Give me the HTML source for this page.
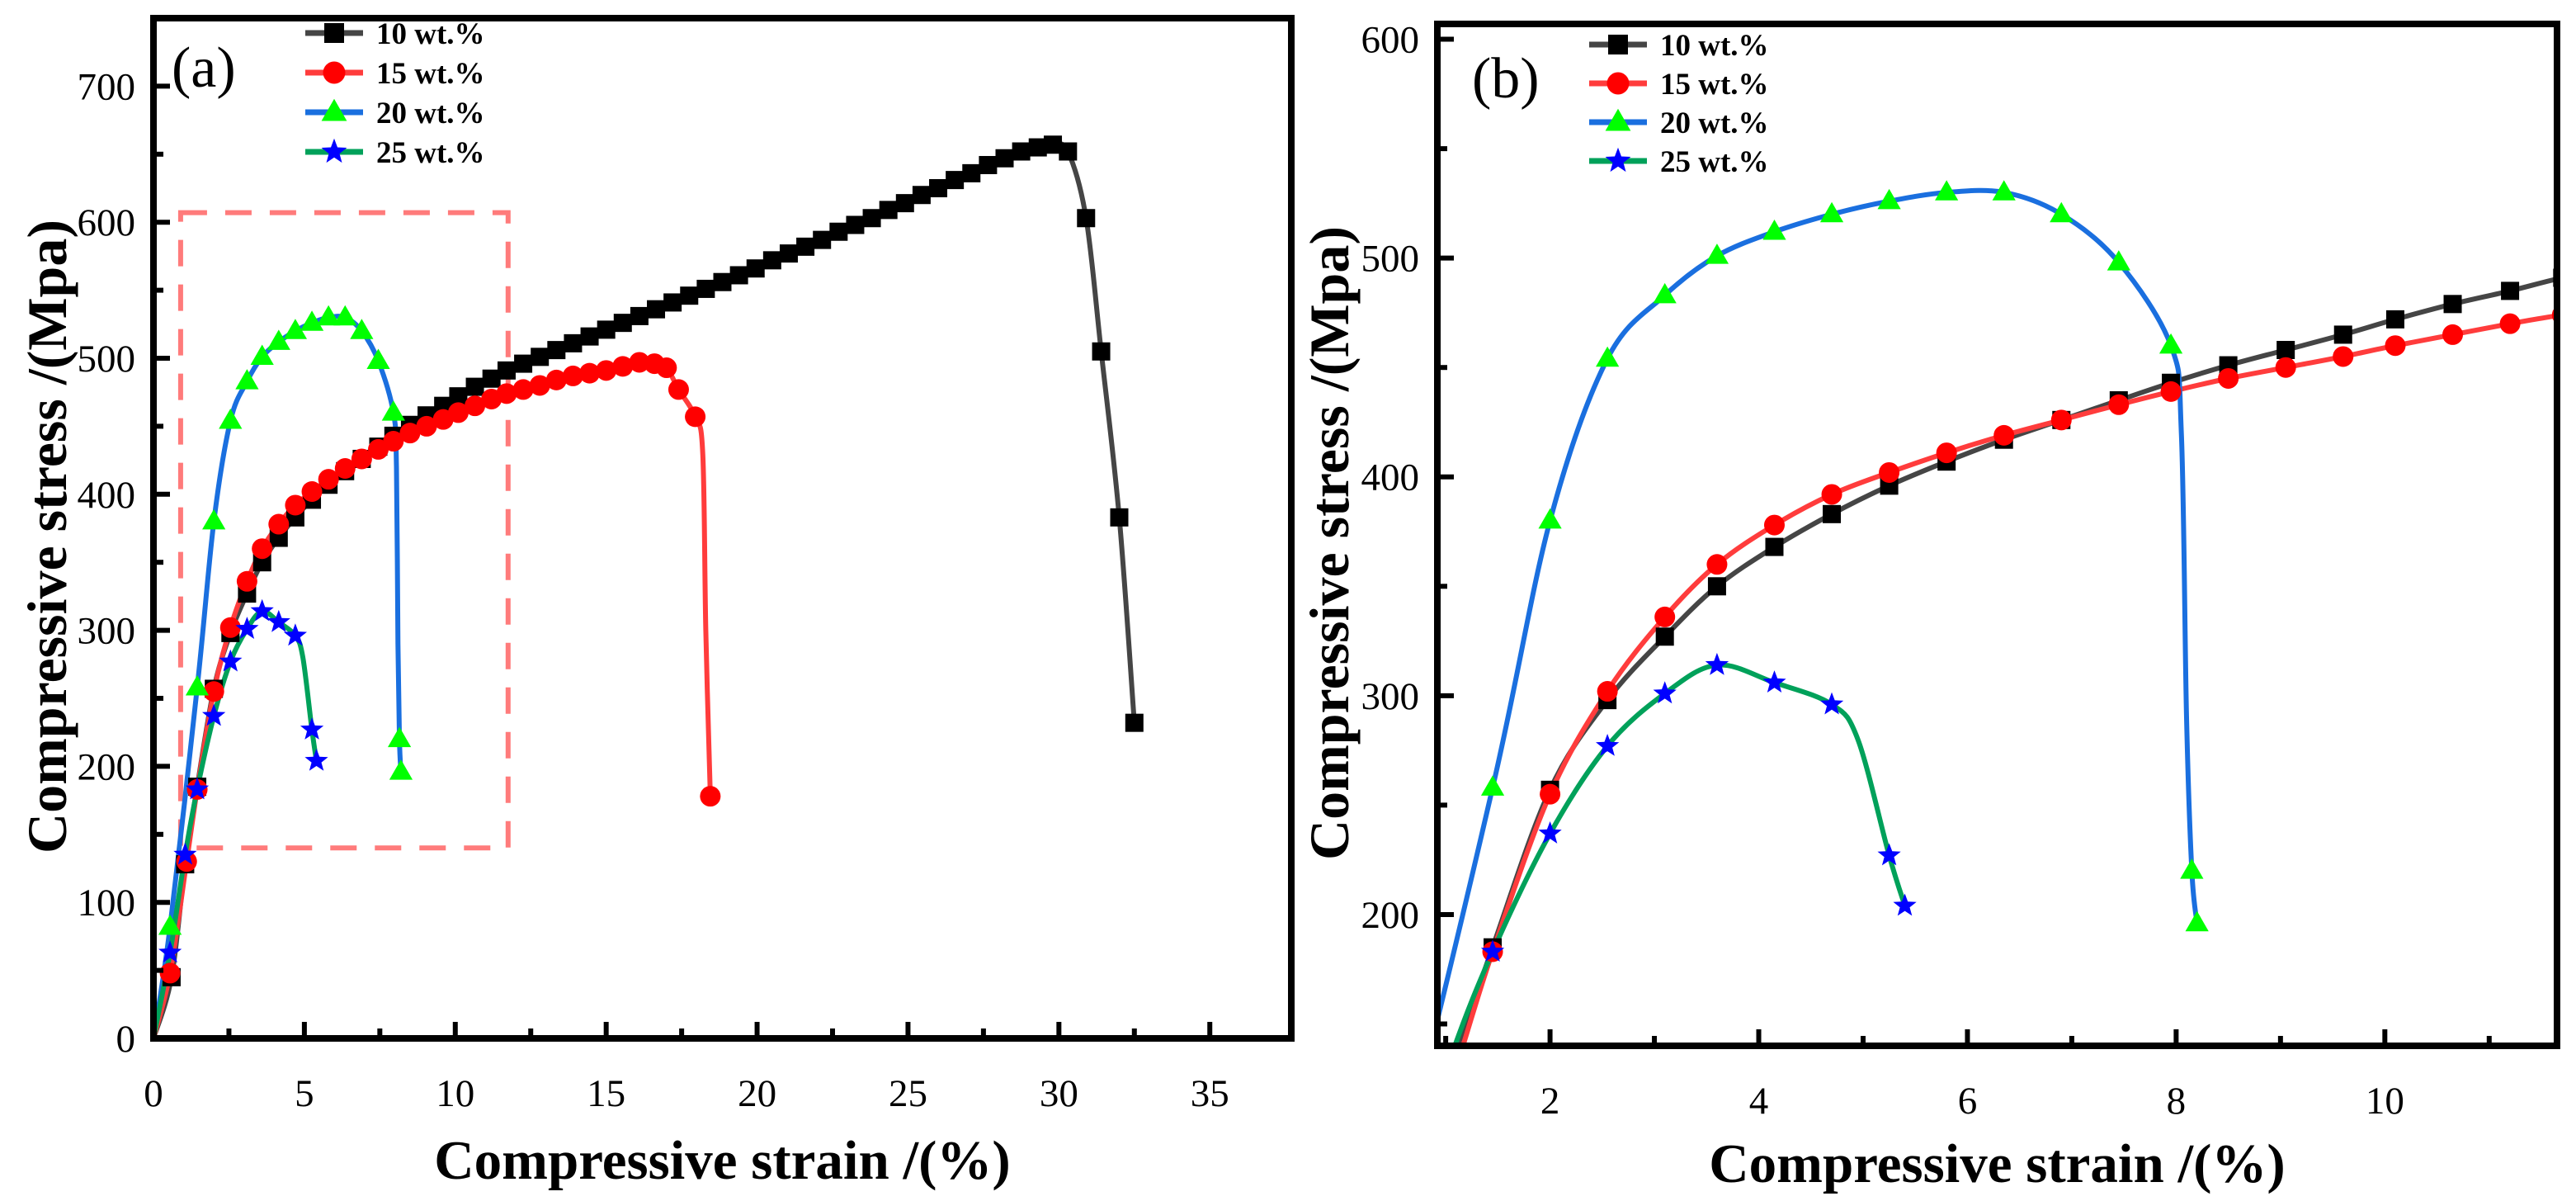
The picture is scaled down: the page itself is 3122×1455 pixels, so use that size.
<!DOCTYPE html>
<html><head><meta charset="utf-8"><style>
html,body{margin:0;padding:0;background:#fff;overflow:hidden;width:3122px;height:1455px;}
svg{display:block;}
text{font-family:"Liberation Serif",serif;}
</style></head>
<body>
<svg id="chart" xmlns="http://www.w3.org/2000/svg" width="3122" height="1455" viewBox="0 0 3122 1455"></svg>
<script>
// ---- data ----
const s10x=[0,0.6,1.05,1.45,2,2.55,3.1,3.6,4.15,4.7,5.25,5.8,6.35,6.9,7.45,7.95,8.5,9.05,9.6,10.1,10.65,11.2,11.7,12.25,12.8,13.35,13.9,14.45,15.0,15.55,16.1,16.65,17.2,17.75,18.3,18.85,19.4,19.95,20.5,21.05,21.6,22.15,22.7,23.25,23.8,24.35,24.9,25.45,26.0,26.55,27.1,27.65,28.2,28.75,29.3,29.8,30.3,30.9,31.4,32.0,32.5];
const s10y=[0,45,128,185,257,298,327,350,368,383,396,407,417,426,435,443,451,458,465,472,479,485,491,496,501,506,511,516,521,526,531,536,541,546,551,556,561,566,572,577,582,587,593,598,603,609,614,620,625,631,636,642,647,652,655,657,652,603,505,383,232];
const s10m=s10x.map((v,i)=>i>0?1:0);
const s15x=[0,0.55,1.1,1.45,2,2.55,3.1,3.6,4.15,4.7,5.25,5.8,6.35,6.9,7.45,7.95,8.5,9.05,9.6,10.1,10.65,11.2,11.7,12.25,12.8,13.35,13.9,14.45,15.0,15.55,16.1,16.6,17.0,17.4,17.95,18.2,18.3,18.45];
const s15y=[0,48,130,183,255,302,336,360,378,392,402,411,419,426,433,439,445,450,455,460,465,470,474,477,480,484,487,489,491,494,497,496,493,477,457,430,300,178];
const s15m=[0,1,1,1,1,1,1,1,1,1,1,1,1,1,1,1,1,1,1,1,1,1,1,1,1,1,1,1,1,1,1,1,1,1,1,0,0,1];
const s20x=[0,0.55,1.45,2,2.55,3.1,3.6,4.15,4.7,5.25,5.8,6.35,6.9,7.45,7.95,8.05,8.1,8.15,8.2];
const s20y=[0,82,258,380,454,483,501,512,520,526,530,530,520,498,460,420,290,220,196];
const s20m=[0,1,1,1,1,1,1,1,1,1,1,1,1,1,1,0,0,1,1];
const s25x=[0,0.55,1.05,1.45,2,2.55,3.1,3.6,4.15,4.7,4.95,5.25,5.4];
const s25y=[0,63,135,183,237,277,301,314,306,296,280,227,204];
const s25m=[0,1,1,1,1,1,1,1,1,1,0,1,1];
const legendLabels=["10 wt.%","15 wt.%","20 wt.%","25 wt.%"];
const aXTicks=[0,5,10,15,20,25,30,35];
const aYTicks=[0,100,200,300,400,500,600,700];
const bXTicks=[2,4,6,8,10];
const bYTicks=[200,300,400,500,600];

const NS="http://www.w3.org/2000/svg";
const svg=document.getElementById('chart');
function mk(tag,attrs,parent){const e=document.createElementNS(NS,tag);for(const k in attrs)e.setAttribute(k,attrs[k]);(parent||svg).appendChild(e);return e;}

const series=[
 {x:s10x,y:s10y,m:s10m,line:"#454545",mk:"square",mc:"#000000",name:"series-10wt"},
 {x:s15x,y:s15y,m:s15m,line:"#ff3c3c",mk:"circle",mc:"#ff0000",name:"series-15wt"},
 {x:s20x,y:s20y,m:s20m,line:"#1a6fdf",mk:"triangle",mc:"#00ff00",name:"series-20wt"},
 {x:s25x,y:s25y,m:s25m,line:"#00a15a",mk:"star",mc:"#0000ff",name:"series-25wt"}
];

function marker(type,cx,cy,col,parent,sz){
  let e;
  if(type==="square"){e=mk('rect',{x:cx-sz,y:cy-sz,width:2*sz,height:2*sz,fill:col},parent);}
  else if(type==="circle"){e=mk('circle',{cx:cx,cy:cy,r:sz+1.5,fill:col},parent);}
  else if(type==="triangle"){const r=sz*1.35;e=mk('polygon',{points:`${cx},${cy-r} ${cx+r*0.95},${cy+r*0.65} ${cx-r*0.95},${cy+r*0.65}`,fill:col},parent);}
  else{const R=sz*1.35,r=R*0.42;let p=[];for(let i=0;i<10;i++){const a=-Math.PI/2+i*Math.PI/5;const rr=i%2?r:R;p.push((cx+rr*Math.cos(a)).toFixed(1)+","+(cy+rr*Math.sin(a)).toFixed(1));}e=mk('polygon',{points:p.join(' '),fill:col},parent);}
  return e;
}
function smoothPath(pts){
  let d=`M${pts[0][0]},${pts[0][1]}`;
  for(let i=0;i<pts.length-1;i++){
    const p0=pts[i-1]||pts[i],p1=pts[i],p2=pts[i+1],p3=pts[i+2]||p2;
    const t=1/6;
    const c1=[p1[0]+(p2[0]-p0[0])*t,p1[1]+(p2[1]-p0[1])*t];
    const c2=[p2[0]-(p3[0]-p1[0])*t,p2[1]-(p3[1]-p1[1])*t];
    d+=` C${c1[0].toFixed(1)},${c1[1].toFixed(1)} ${c2[0].toFixed(1)},${c2[1].toFixed(1)} ${p2[0].toFixed(1)},${p2[1].toFixed(1)}`;
  }
  return d;
}

function panel(cfg){
  const {L,R,T,B,x0,x1,y0,y1,id}=cfg;
  const sx=v=>L+(v-x0)/(x1-x0)*(R-L);
  const sy=v=>B-(v-y0)/(y1-y0)*(B-T);
  const g=mk('g',{});
  
  
  const clip=mk('clipPath',{id:'clip-'+id},g);
  mk('rect',{x:L,y:T,width:R-L,height:B-T},clip);
  if(cfg.box){
    const b=mk('rect',{x:sx(cfg.box[0]),y:sy(cfg.box[3]),width:sx(cfg.box[1])-sx(cfg.box[0]),height:sy(cfg.box[2])-sy(cfg.box[3]),fill:"none",stroke:"#ff7b7b",'stroke-width':6,'stroke-dasharray':'32,22'},g);
    
    
  }
  const data=mk('g',{'clip-path':`url(#clip-${id})`},g);
  series.forEach(s=>{
    const pts=s.x.map((v,i)=>[sx(v),sy(s.y[i])]);
    const p=mk('path',{d:smoothPath(pts),fill:"none",stroke:s.line,'stroke-width':6,'stroke-linejoin':'round'},data);
    
    
  });
  series.forEach(s=>{
    s.x.forEach((v,i)=>{
      if(!s.m[i])return;
      const e=marker(s.mk,sx(v),sy(s.y[i]),s.mc,data,cfg.ms);
      
      
    });
  });
  const tg=mk('g',{stroke:"#000"},g);
  cfg.xt.forEach(v=>{
    const x=sx(v);mk('line',{x1:x,x2:x,y1:B,y2:B-20,'stroke-width':6},tg);
    const t=mk('text',{x:x,y:B+82,'font-size':47,'text-anchor':'middle',fill:'#000',stroke:'none'},g);t.textContent=v;
    
    
  });
  cfg.xm.forEach(v=>{const x=sx(v);mk('line',{x1:x,x2:x,y1:B,y2:B-12,'stroke-width':6},tg);});
  cfg.yt.forEach(v=>{
    const y=sy(v);mk('line',{x1:L,x2:L+20,y1:y,y2:y,'stroke-width':6},tg);
    const t=mk('text',{x:L-22,y:y+16,'font-size':47,'text-anchor':'end',fill:'#000',stroke:'none'},g);t.textContent=v;
    
    
  });
  cfg.ym.forEach(v=>{const y=sy(v);mk('line',{x1:L,x2:L+12,y1:y,y2:y,'stroke-width':6},tg);});
  const fr=mk('rect',{x:L,y:T,width:R-L,height:B-T,fill:'none',stroke:'#000','stroke-width':8},g);
  
  
  const xt=mk('text',{x:(L+R)/2,y:cfg.xty,'font-size':67,'font-weight':'bold','text-anchor':'middle'},g);
  xt.textContent="Compressive strain /(%)";
  
  
  const yc=(T+B)/2+10;
  const yt=mk('text',{x:cfg.ytx,y:yc,'font-size':68,'font-weight':'bold','text-anchor':'middle',transform:`rotate(-90 ${cfg.ytx} ${yc})`},g);
  yt.textContent="Compressive stress /(Mpa)";
  
  
  const pl=mk('text',{x:cfg.lab[0],y:cfg.lab[1],'font-size':70},g);
  pl.textContent=cfg.label;
  
  
  series.forEach((s,i)=>{
    const ly=cfg.leg[1]+i*cfg.leg[2];
    const lg=mk('g',{},g);
    
    
    mk('line',{x1:cfg.leg[0],x2:cfg.leg[0]+70,y1:ly,y2:ly,stroke:s.line,'stroke-width':7},lg);
    marker(s.mk,cfg.leg[0]+35,ly,s.mc,lg,12);
    const t=mk('text',{x:cfg.leg[0]+86,y:ly+13,'font-size':37,'font-weight':'bold'},lg);
    t.textContent=legendLabels[i];
  });
}

panel({id:'panel-a',L:186,R:1565,T:22,B:1258,x0:0,x1:37.7,y0:0,y1:750,
  xt:aXTicks,xm:[2.5,7.5,12.5,17.5,22.5,27.5,32.5],yt:aYTicks,ym:[50,150,250,350,450,550,650],
  box:[0.9,11.75,140,607],ms:11,xty:1428,ytx:80,lab:[208,105],label:"(a)",leg:[370,40,48]});
panel({id:'panel-b',L:1742,R:3099,T:29,B:1267,x0:0.92,x1:11.65,y0:140,y1:607,
  xt:bXTicks,xm:[1,3,5,7,9,11],yt:bYTicks,ym:[150,250,350,450,550],
  ms:11,xty:1432,ytx:1634,lab:[1784,118],label:"(b)",leg:[1926,54,47]});
</script>
</body></html>
